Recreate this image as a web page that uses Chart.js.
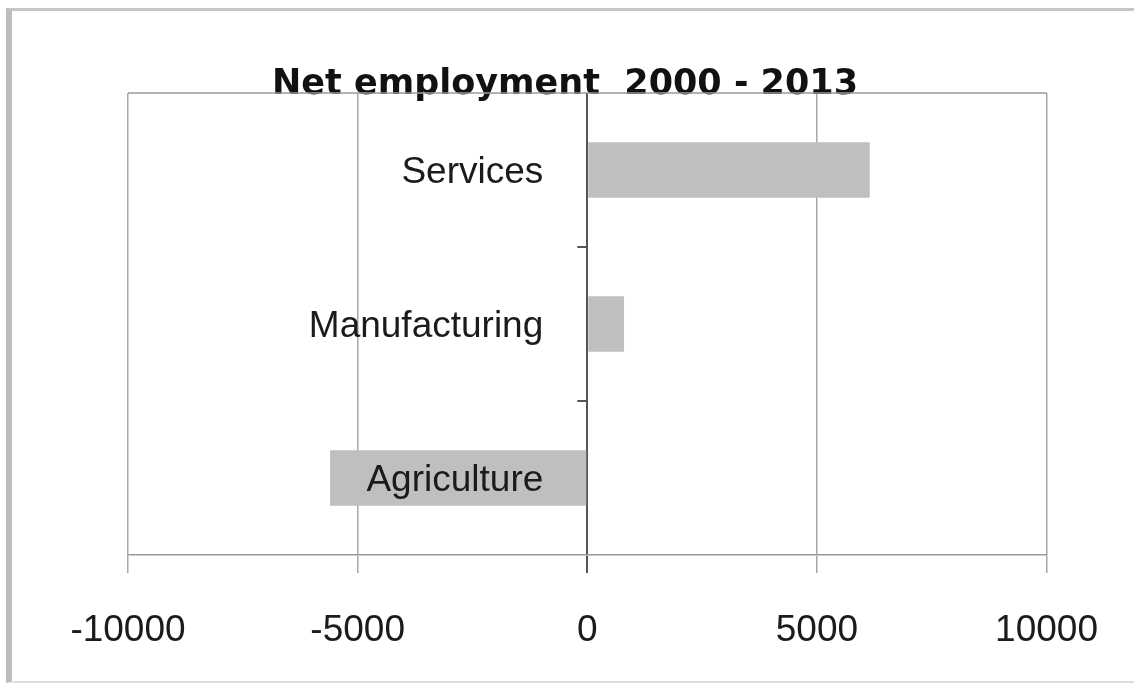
<!DOCTYPE html>
<html lang="en">
<head>
    <meta charset="UTF-8">
    <title>Net employment 2000 - 2013</title>
    <script src="https://cdn.jsdelivr.net/npm/chart.js"></script>
    <style>
        html, body {
            margin: 0;
            padding: 0;
            background: #fff;
        }
        #wrap {
            position: relative;
            width: 1134px;
            height: 684px;
            overflow: hidden;
        }
        #frame {
            position: absolute;
            left: 6px;
            top: 8px;
            right: -10px;
            bottom: 1px;
            border-left: 6px solid #bcbcbc;
            border-top: 3px solid #c6c6c6;
            border-bottom: 2px solid #dedede;
        }
        #netChart {
            position: absolute;
            left: 0;
            top: 0;
            filter: blur(0.5px);
        }
    </style>
</head>
<body>
    <div id="wrap">
        <div id="frame"></div>
        <canvas id="netChart" width="1134" height="684"></canvas>
    </div>

    <script>
        // Net change in jobs by sector, 2000 to 2013
        const categories = ["Services", "Manufacturing", "Agriculture"];
        const netChange = [6150, 800, -5600];
        const xTicks = [-10000, -5000, 0, 5000, 10000];

        // Category names sit against the zero line, with small ticks between sectors
        const zeroAxisLabels = {
            id: "zeroAxisLabels",
            afterDatasetsDraw(chart) {
                const { ctx, chartArea, scales: { x, y } } = chart;
                const x0 = x.getPixelForValue(0);

                ctx.save();
                // frame line along the top of the plot
                ctx.strokeStyle = "#9a9a9a";
                ctx.lineWidth = 1.5;
                ctx.beginPath();
                ctx.moveTo(chartArea.left, chartArea.top);
                ctx.lineTo(chartArea.right, chartArea.top);
                ctx.stroke();

                // separators between categories on the zero axis
                ctx.strokeStyle = "#555";
                ctx.lineWidth = 2;
                for (let i = 1; i < categories.length; i++) {
                    const yy = Math.round(y.getPixelForValue(i - 0.5));
                    ctx.beginPath();
                    ctx.moveTo(x0 - 10, yy);
                    ctx.lineTo(x0, yy);
                    ctx.stroke();
                }

                ctx.fillStyle = "#1b1b1b";
                ctx.font = "37px 'Liberation Sans', Arial, sans-serif";
                ctx.textAlign = "right";
                ctx.textBaseline = "middle";
                categories.forEach((name, i) => {
                    ctx.fillText(name, x0 - 44, y.getPixelForTick(i) + 3);
                });
                ctx.restore();
            }
        };

        new Chart(document.getElementById("netChart"), {
            type: "bar",
            data: {
                labels: categories,
                datasets: [{
                    data: netChange,
                    backgroundColor: "#bfbfbf",
                    borderWidth: 0,
                    categoryPercentage: 1,
                    barPercentage: 0.36
                }]
            },
            options: {
                indexAxis: "y",
                responsive: false,
                animation: false,
                layout: {
                    padding: { left: 83, right: 87, top: 0, bottom: 0 }
                },
                plugins: {
                    legend: { display: false },
                    tooltip: { enabled: false },
                    title: {
                        display: true,
                        text: "Net employment  2000 - 2013",
                        color: "#111",
                        font: { family: "'DejaVu Sans', sans-serif", size: 35, weight: "bold" },
                        padding: { top: 64, bottom: -13 }
                    }
                },
                scales: {
                    x: {
                        min: -10000,
                        max: 10000,
                        afterBuildTicks: scale => {
                            scale.ticks = xTicks.map(v => ({ value: v }));
                        },
                        afterFit: scale => {
                            scale.height = 129;
                        },
                        grid: {
                            color: ctx => ctx.tick && ctx.tick.value === 0 ? "#555" : "#a8a8a8",
                            lineWidth: ctx => ctx.tick && ctx.tick.value === 0 ? 2 : 1.5,
                            tickLength: 18
                        },
                        border: { color: "#9a9a9a", width: 1.5 },
                        ticks: {
                            color: "#1b1b1b",
                            padding: 36,
                            maxRotation: 0,
                            font: { family: "'Liberation Sans', Arial, sans-serif", size: 37 },
                            callback: v => String(v)
                        }
                    },
                    y: {
                        grid: { display: false },
                        border: { display: false },
                        ticks: { display: false },
                        afterFit: scale => {
                            scale.width = 45;
                        }
                    }
                }
            },
            plugins: [zeroAxisLabels]
        });
    </script>
</body>
</html>
